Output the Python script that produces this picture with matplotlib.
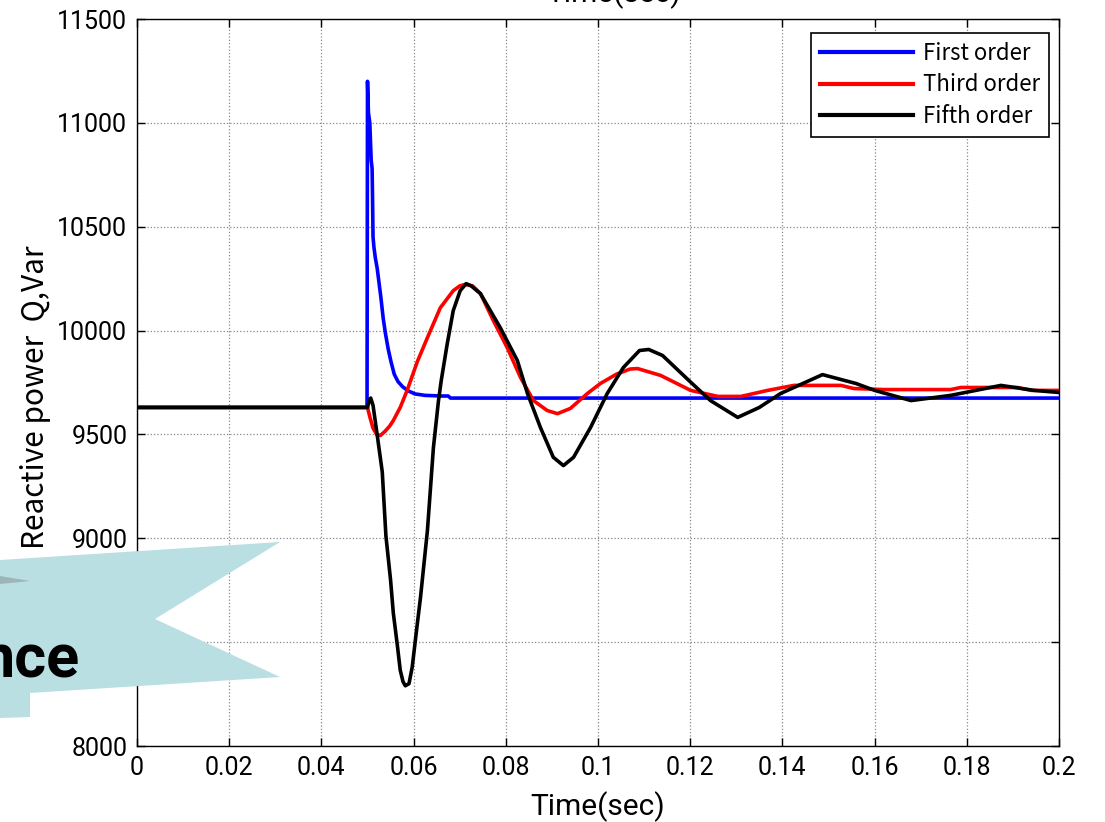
import matplotlib
matplotlib.use("Agg")
import matplotlib.pyplot as plt
from matplotlib.patches import Polygon

# ---------------- data ----------------
t_first = [0, 0.0499, 0.0500, 0.0502, 0.0505, 0.0508, 0.0510, 0.0511, 0.0512, 0.0514,
           0.0517, 0.0521, 0.0525, 0.0529, 0.0534, 0.0539, 0.0545, 0.0551, 0.0558,
           0.0566, 0.0576, 0.0588, 0.0603, 0.0625, 0.0660, 0.0675, 0.0680, 0.2]
q_first = [9630, 9630, 11200, 11050, 11000, 10820, 10780, 10630, 10450, 10400,
           10350, 10300, 10230, 10160, 10060, 9985, 9910, 9850, 9790,
           9755, 9730, 9710, 9695, 9688, 9685, 9685, 9675, 9675]

t_third = [0, 0.0500, 0.0505, 0.0512, 0.0520, 0.0528, 0.0538, 0.0548, 0.0556, 0.0571,
           0.0586, 0.0608, 0.0630, 0.0658, 0.0686, 0.0700, 0.0712, 0.0728, 0.0745,
           0.0773, 0.0803, 0.0832, 0.0860, 0.0890, 0.0912, 0.0940, 0.0977, 0.1005,
           0.1040, 0.1070, 0.1086, 0.1136, 0.1201, 0.1260, 0.1310, 0.1368, 0.1425,
           0.1527, 0.1555, 0.1620, 0.1765, 0.1787, 0.1910, 0.1940, 0.2]
q_third = [9630, 9630, 9585, 9530, 9500, 9495, 9515, 9540, 9567, 9630,
           9712, 9850, 9966, 10110, 10192, 10215, 10222, 10215, 10178,
           10048, 9918, 9774, 9663, 9615, 9600, 9625, 9697, 9745,
           9790, 9815, 9817, 9784, 9712, 9683, 9683, 9712, 9736,
           9736, 9721, 9716, 9716, 9726, 9726, 9712, 9712]

t_fifth = [0, 0.0500, 0.0504, 0.0507, 0.0512, 0.0520, 0.0532, 0.0540, 0.0550, 0.0556,
           0.0565, 0.0571, 0.0577, 0.0582, 0.0590, 0.0597, 0.0606, 0.0615, 0.0630,
           0.0643, 0.0654, 0.0660, 0.0673, 0.0686, 0.0701, 0.0714, 0.0725, 0.0745,
           0.0788, 0.0825, 0.0847, 0.0875, 0.0903, 0.0925, 0.0947, 0.0984, 0.1020,
           0.1055, 0.1090, 0.1110, 0.1140, 0.1197, 0.1244, 0.1303, 0.1350, 0.1396,
           0.1487, 0.1560, 0.1600, 0.1679, 0.1765, 0.1874, 0.1946, 0.2]
q_fifth = [9630, 9630, 9665, 9675, 9640, 9514, 9320, 9010, 8800, 8640,
           8480, 8365, 8310, 8290, 8300, 8380, 8550, 8716, 9038,
           9437, 9663, 9760, 9937, 10096, 10192, 10226, 10215, 10178,
           10014, 9856, 9697, 9534, 9390, 9350, 9390, 9534, 9697,
           9822, 9904, 9909, 9880, 9760, 9663, 9582, 9630, 9697,
           9788, 9745, 9712, 9663, 9688, 9736, 9712, 9702]

series_labels = ["First order", "Third order", "Fifth order"]
x_ticks = [0, 0.02, 0.04, 0.06, 0.08, 0.1, 0.12, 0.14, 0.16, 0.18, 0.2]
x_tick_labels = ["0", "0.02", "0.04", "0.06", "0.08", "0.1", "0.12", "0.14", "0.16", "0.18", "0.2"]
y_ticks = [8000, 8500, 9000, 9500, 10000, 10500, 11000, 11500]

# ---------------- figure ----------------
W, H = 1105, 822
fig = plt.figure(figsize=(W / 100, H / 100), dpi=100)
ax = fig.add_axes([137 / W, (H - 746) / H, 922 / W, 727 / H])

tick_font = ["Roboto", "DejaVu Sans"]
label_font = ["Noto Sans CJK JP", "DejaVu Sans"]

ax.plot(t_first, q_first, color="#0000FF", lw=2.6, label=series_labels[0], zorder=3)
ax.plot(t_third, q_third, color="#FF0000", lw=2.6, label=series_labels[1], zorder=4)
ax.plot(t_fifth, q_fifth, color="black", lw=2.6, label=series_labels[2], zorder=5)

ax.set_xlim(0, 0.2)
ax.set_ylim(8000, 11500)
ax.set_xticks(x_ticks)
ax.set_xticklabels(x_tick_labels)
ax.set_yticks(y_ticks)
ax.tick_params(direction="in", top=True, right=True, length=6, width=1,
               labelsize=18, pad=7)
for lab in ax.get_xticklabels() + ax.get_yticklabels():
    lab.set_family(tick_font)
ax.grid(True, color="#888888", linestyle=":", linewidth=0.9)
for s in ax.spines.values():
    s.set_linewidth(1.0)

ax.set_xlabel("Time(sec)", fontsize=21.5, family=tick_font, labelpad=8)
ax.set_ylabel("Reactive power  Q,Var", fontsize=21.5, family=label_font)
ax.yaxis.set_label_coords(-0.093, 0.48)

leg = ax.legend(loc="upper right", bbox_to_anchor=(0.989, 0.981), frameon=True,
                fancybox=False, edgecolor="black", framealpha=1,
                prop={"family": label_font, "size": 16},
                handlelength=4.2, handletextpad=0.45, borderpad=0.4,
                labelspacing=0.39, borderaxespad=0)
leg.get_frame().set_linewidth(1.2)
for ln in leg.get_lines():
    ln.set_linewidth(3.0)

# clipped title at the very top
fig.text(614 / W, 1 - 2 / H, "Time(sec)", ha="center", va="baseline",
         fontsize=21.5, family=tick_font)

# decorative banner overlay
def fp(x, y):
    return (x / W, 1 - y / H)

banner = Polygon([fp(0, 560), fp(280, 542), fp(155, 619), fp(280, 677), fp(30, 693),
                  fp(30, 717), fp(0, 718)], closed=True, transform=fig.transFigure,
                 facecolor="#B9DFE3", edgecolor="none", zorder=10)
fig.patches.append(banner)
shade = Polygon([fp(0, 576), fp(30, 581), fp(0, 584)], closed=True,
                transform=fig.transFigure, facecolor="#9DB5B8", edgecolor="none", zorder=11)
fig.patches.append(shade)
fig.text(80 / W, 1 - 677 / H, "nce", ha="right", va="baseline", fontsize=44,
         fontweight="bold", family=["Roboto", "DejaVu Sans"], zorder=12)

fig.savefig("out.png", dpi=100)
